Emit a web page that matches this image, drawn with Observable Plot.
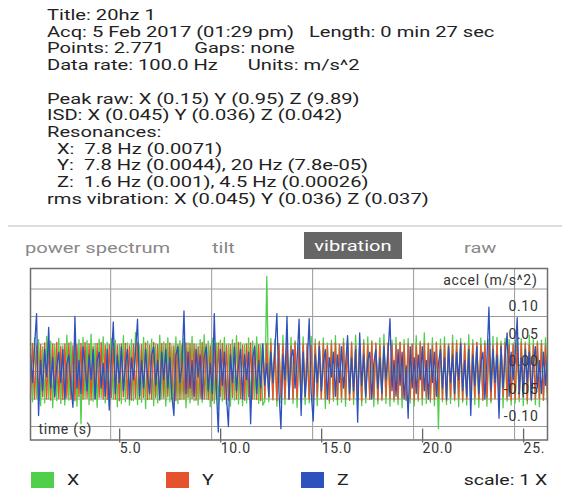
<!DOCTYPE html>
<html>
<head>
<meta charset="utf-8">
<script src="https://cdn.jsdelivr.net/npm/d3@7"></script>
<script src="https://cdn.jsdelivr.net/npm/@observablehq/plot@0.6"></script>
<style>
  html, body { margin: 0; padding: 0; background: #fff; }
  body { width: 564px; height: 490px; position: relative; overflow: hidden; font-family: Roboto, "Noto Sans", sans-serif; }
  #info { position: absolute; left: 47px; top: 7px; font-size: 15px; line-height: 16.7px; color: #222; white-space: pre; transform: scaleX(1.34); transform-origin: 0 0; }
  #sep { position: absolute; left: 8px; top: 225px; width: 554px; height: 1.5px; background: #ddd; }
  .tab { position: absolute; top: 239px; font-size: 15px; color: #888; white-space: pre; line-height: 18px; transform: scaleX(1.34); transform-origin: 0 0; }
  #vib { position: absolute; left: 304px; top: 232px; width: 98px; height: 27px; background: #666; }
  #vib span { display: block; color: #fff; font-size: 15px; text-align: center; line-height: 28px; transform: scaleX(1.34); }
  #chart { position: absolute; left: 0; top: 262px; }
  #legend { position: absolute; left: 0; top: 472px; width: 564px; height: 18px; }
  .sw { position: absolute; top: 0; width: 23px; height: 16px; }
  .lt { position: absolute; top: -1px; font-size: 15px; color: #222; line-height: 18px; white-space: pre; transform: scaleX(1.3); transform-origin: 0 0; }
  #scale { right: 17px; transform-origin: 100% 0; }
</style>
</head>
<body>
<div id="info"></div>
<div id="sep"></div>
<div id="tabs"></div>
<div id="chart"></div>
<div id="legend"></div>
<script>
// ---- header text ----
const infoLines = [
  "Title: 20hz 1",
  "Acq: 5 Feb 2017 (01:29 pm)   Length: 0 min 27 sec",
  "Points: 2.771      Gaps: none",
  "Data rate: 100.0 Hz      Units: m/s^2",
  "",
  "Peak raw: X (0.15) Y (0.95) Z (9.89)",
  "ISD: X (0.045) Y (0.036) Z (0.042)",
  "Resonances:",
  "  X:  7.8 Hz (0.0071)",
  "  Y:  7.8 Hz (0.0044), 20 Hz (7.8e-05)",
  "  Z:  1.6 Hz (0.001), 4.5 Hz (0.00026)",
  "rms vibration: X (0.045) Y (0.036) Z (0.037)"
];
const tabLabels = ["power spectrum", "tilt", "vibration", "raw"];
const activeTab = "vibration";

// ---- chart data ----
const seriesNames = ["X", "Y", "Z"];
const seriesColors = ["#4fcf4a", "#e6522c", "#2d52bd"];
const t0 = 1.03;      // seconds at first sample shown
const dt = 0.1;       // seconds between samples
const xTicks = [5, 10, 15, 20, 25];
const xTickLabels = ["5.0", "10.0", "15.0", "20.0", "25."];
const yTicks = [-0.10, -0.05, 0.00, 0.05, 0.10];
const yTickLabels = ["-0.10", "-0.05", "0.00", "0.05", "0.10"];
const yGrid = [-0.10, -0.05, 0.00, 0.05, 0.10, 0.15];

const valuesX = [
  .052,-.055,.061,-.048,.058,-.062,.045,-.057,.064,-.05,.055,-.066,.049,-.053,.06,-.058,.047,-.061,.066,-.052,
  .054,-.059,.05,-.063,.058,-.095,.062,-.049,.056,-.06,.068,-.054,.051,-.065,.059,-.047,.063,-.057,.053,-.062,
  .06,-.05,.057,-.064,.049,-.058,.065,-.055,.052,-.061,.058,-.053,.071,-.06,.048,-.056,.062,-.067,.055,-.051,
  .059,-.062,.05,-.057,.066,-.049,.054,-.063,.061,-.055,.047,-.06,.063,-.058,.056,-.05,.06,-.066,.052,-.057,
  .064,-.053,.049,-.061,.058,-.056,.067,-.05,.055,-.064,.06,-.058,.052,-.069,.057,-.054,.062,-.06,.05,-.063,
  .058,-.052,.065,-.059,.053,-.062,.049,-.057,.061,-.066,.055,-.05,.063,-.058,.048,-.061,-.054,.173,-.055,.06,
  -.052,.058,-.063,.05,-.057,.066,-.06,.054,-.049,.062,-.058,.056,-.065,.051,-.055,.063,-.06,.048,-.057,.064,
  -.053,.059,-.062,.055,-.05,.061,-.067,.052,-.058,.057,-.054,.065,-.061,.05,-.056,.06,-.063,.058,-.052,.054,
  -.06,.066,-.055,.049,-.062,.058,-.057,.063,-.051,.056,-.064,.052,-.059,.061,-.053,.068,-.058,.05,-.063,.057,
  -.055,.062,-.06,.053,-.066,.058,-.052,.06,-.057,.049,-.063,.065,-.054,.055,-.061,.07,-.058,.052,-.056,.061,
  -.062,.054,-.104,.059,-.055,.063,-.06,.051,-.058,.066,-.053,.057,-.064,.06,-.056,.052,-.061,.067,-.055,.058,
  -.06,.053,-.065,.061,-.052,.056,-.063,.059,-.057,.064,-.05,.062,-.058,.055,-.066,.06,-.054,.058,-.061,.052,
  -.057,.063,-.055,.06,-.062,.054,-.059,.066,-.053,.058,-.06,.055,-.064,.057,-.052,.061,-.058
];
const valuesY = [
  -.048,.051,-.05,.047,-.053,.049,-.046,.052,-.05,.048,-.052,.05,-.047,.053,-.049,.046,-.051,.05,-.048,.052,
  -.05,.047,-.053,.049,-.046,.051,-.05,.053,-.048,.05,-.052,.046,-.049,.051,-.047,.053,-.05,.048,-.051,.049,
  -.047,.052,-.05,.048,-.053,.05,-.046,.051,-.049,.047,-.052,.05,-.048,.053,-.05,.049,-.047,.052,-.051,.048,
  -.05,.053,-.047,.049,-.052,.051,-.048,.05,-.046,.052,-.05,.047,-.053,.049,-.051,.048,-.05,.052,-.047,.051,
  -.049,.05,-.052,.046,-.048,.053,-.05,.049,-.051,.047,-.053,.05,-.048,.052,-.046,.051,-.05,.048,-.052,.049,
  -.047,.051,-.05,.053,-.049,.048,-.052,.05,-.046,.052,-.05,.047,-.051,.049,-.053,.05,-.048,.051,-.047,.052,
  -.05,.048,-.053,.051,-.047,.05,-.049,.052,-.051,.046,-.05,.053,-.048,.049,-.052,.05,-.047,.051,-.05,.048,
  -.052,.05,-.046,.053,-.049,.051,-.05,.047,-.053,.05,-.048,.052,-.051,.049,-.047,.053,-.05,.048,-.052,.051,
  -.049,.047,-.051,.05,-.053,.052,-.048,.049,-.05,.053,-.047,.051,-.052,.048,-.05,.05,-.046,.052,-.049,.05,
  -.051,.048,-.05,.053,-.047,.049,-.052,.051,-.048,.05,-.053,.047,-.05,.052,-.049,.051,-.046,.05,-.052,.048,
  -.05,.052,-.048,.047,-.051,.05,-.053,.049,-.047,.052,-.05,.051,-.048,.053,-.052,.049,-.05,.047,-.051,.05,
  -.048,.053,-.05,.049,-.052,.051,-.047,.05,-.053,.048,-.049,.052,-.051,.05,-.046,.053,-.05,.048,-.052,.049,
  -.05,.051,-.048,.052,-.047,.05,-.053,.049,-.051,.048,-.05,.052,-.049,.05,-.052,.047,-.05
];
const valuesZ = [
  .03,-.02,.045,.105,-.08,.02,-.035,.04,-.01,.08,-.03,.025,-.045,.01,.035,-.02,.04,-.05,.015,.03,
  -.025,-.065,.10,-.03,.02,-.04,.045,.01,-.035,.03,-.015,.04,-.05,.02,.035,-.03,.015,-.045,.04,-.07,
  .02,.09,-.04,.03,-.02,.045,-.035,.01,.04,-.05,.025,-.015,.035,.095,-.045,.02,-.03,.04,-.01,-.04,
  .03,.045,-.025,.02,-.05,.035,-.015,.04,-.03,.025,-.045,-.08,.03,.045,-.02,.01,.11,-.04,.035,-.03,
  .02,-.045,.04,-.01,.03,-.05,.025,.045,-.035,.015,-.04,.105,-.03,-.11,.04,-.025,.035,-.045,-.10,.03,
  -.02,.045,-.035,.01,.04,-.05,.03,-.015,.035,-.095,.025,.045,-.04,.02,-.03,.05,-.025,.015,-.045,.035,
  -.02,.04,.105,-.035,-.104,.03,-.015,.10,-.05,.025,.04,-.03,.02,.095,-.08,.035,-.045,.01,.096,-.04,
  -.09,.03,-.02,.045,-.035,.015,.04,-.05,.025,-.01,.035,-.045,.03,-.02,.045,-.03,.01,.065,-.04,.025,
  -.035,.04,-.092,.07,-.025,.03,-.045,.02,.035,-.05,.015,.04,-.03,.025,-.04,.045,-.015,.03,.096,-.035,
  .02,-.045,.04,-.025,.035,-.05,.01,-.085,.045,-.03,.025,-.04,.03,-.015,.045,-.035,.02,-.05,.04,-.02,
  .035,-.045,.015,.04,-.03,.025,-.05,.045,-.02,.03,-.04,.035,-.015,.05,-.035,.02,-.045,.04,-.08,.03,
  -.025,.045,-.04,.015,.035,-.05,.02,.117,-.035,.04,-.02,.03,-.085,.045,-.03,.025,.07,-.045,.035,-.015,
  .03,.098,-.04,.025,-.045,.04,-.02,.035,-.05,.015,.045,-.03,.02,-.04,.035,-.025,.03
];

// ---- header ----
document.getElementById("info").textContent = infoLines.join("\n");
const tabLeft = [25, 212, 304, 464];
const tabsDiv = document.getElementById("tabs");
tabLabels.forEach((lab, i) => {
  const d = document.createElement("div");
  if (lab === activeTab) {
    d.id = "vib";
    const s = document.createElement("span");
    s.textContent = lab;
    d.appendChild(s);
  } else {
    d.className = "tab"; d.style.left = tabLeft[i] + "px";
    d.textContent = lab;
  }
  tabsDiv.appendChild(d);
});

// ---- chart ----
const valuesBySeries = [valuesX, valuesY, valuesZ];
const rows = [];
valuesBySeries.forEach((vals, s) => {
  vals.forEach((v, i) => rows.push({series: seriesNames[s], t: t0 + i * dt, v}));
});
const tMax = t0 + (valuesX.length - 1) * dt;

const chart = Plot.plot({
  width: 564,
  height: 200,
  marginLeft: 30,
  marginRight: 17,
  marginTop: 6,
  marginBottom: 22.5,
  style: {fontFamily: "Roboto, sans-serif", fontSize: "14px", color: "#333", background: "transparent"},
  x: {domain: [t0, tMax], axis: null},
  y: {domain: [-0.1245, 0.1873], axis: null},
  color: {domain: seriesNames, range: seriesColors},
  marks: [
    Plot.gridX(xTicks, {stroke: "#9a9a9a", strokeOpacity: 1, strokeWidth: 1}),
    Plot.gridY(yGrid, {stroke: "#9a9a9a", strokeOpacity: 1, strokeWidth: 1}),
    Plot.line(rows, {x: "t", y: "v", z: "series", stroke: "series", strokeWidth: 1.3, curve: "linear"}),
    Plot.axisX(xTicks, {
      anchor: "bottom", tickSize: 14, tickPadding: 0, stroke: "#666", strokeWidth: 1.3,
      tickFormat: d => xTickLabels[xTicks.indexOf(d)],
      textAnchor: "start", dx: 9, dy: -11, fill: "#333", fontSize: 14, label: null
    }),
    Plot.text(yTicks, {
      y: d => d, text: d => yTickLabels[yTicks.indexOf(d)], frameAnchor: "right",
      textAnchor: "end", lineAnchor: "middle", dx: -9, dy: -10, fill: "#333", fontSize: 14
    }),
    Plot.text(["accel (m/s^2)"], {frameAnchor: "top-right", textAnchor: "end", lineAnchor: "middle", dx: -10, dy: 12, fill: "#333", fontSize: 14}),
    Plot.text(["time (s)"], {frameAnchor: "bottom-left", textAnchor: "start", lineAnchor: "middle", dx: 8, dy: -10.5, fill: "#333", fontSize: 14}),
    Plot.frame({stroke: "#6e6e6e", strokeWidth: 1.5})
  ]
});
d3.select(chart).selectAll("text").attr("letter-spacing", "0.7px");
document.getElementById("chart").appendChild(chart);

// ---- legend ----
const legendLeft = [31, 166, 301];
const leg = document.getElementById("legend");
seriesNames.forEach((name, i) => {
  const sw = document.createElement("div");
  sw.className = "sw"; sw.style.left = legendLeft[i] + "px"; sw.style.background = seriesColors[i];
  leg.appendChild(sw);
  const lt = document.createElement("div");
  lt.className = "lt"; lt.style.left = (legendLeft[i] + 36) + "px"; lt.textContent = name;
  leg.appendChild(lt);
});
const sc = document.createElement("div");
sc.className = "lt"; sc.id = "scale"; sc.textContent = "scale: 1 X";
leg.appendChild(sc);
</script>
</body>
</html>
